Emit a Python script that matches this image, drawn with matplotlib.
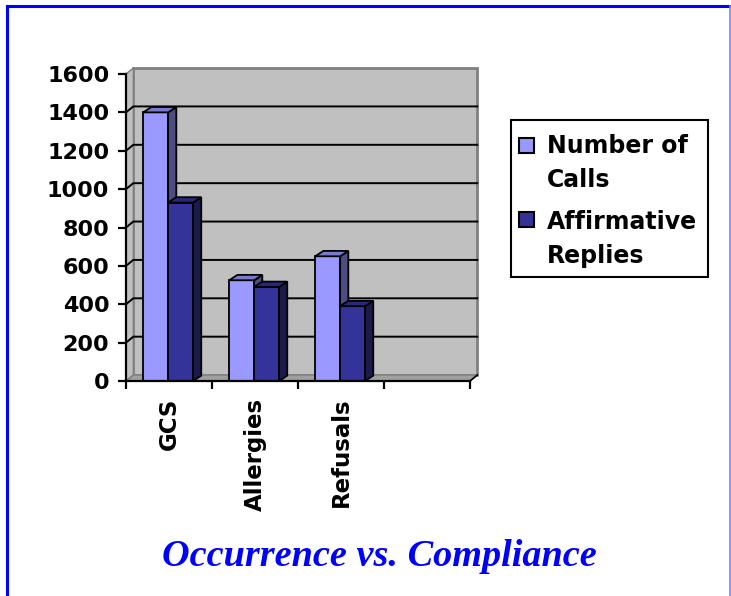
import matplotlib
matplotlib.use("Agg")
import matplotlib.pyplot as plt
from matplotlib.patches import Polygon, Rectangle
from matplotlib.lines import Line2D

# data
categories = ["GCS", "Allergies", "Refusals", ""]
number_of_calls = [1400, 525, 650]
affirmative_replies = [930, 490, 390]
series_names = [["Number of", "Calls"], ["Affirmative", "Replies"]]
y_ticks = [0, 200, 400, 600, 800, 1000, 1200, 1400, 1600]

light = "#9999FF"
light_side = "#4D4D80"
light_top = "#7A7ACC"
dark = "#333399"
dark_side = "#1A1A4D"
dark_top = "#29297A"

W, H = 731, 596
fig = plt.figure(figsize=(W / 100, H / 100), dpi=100)


def fx(px):
    return px / W


def fy(py):
    return 1 - py / H


# blue frame around the slide area
fig.add_artist(Line2D([fx(7), fx(7)], [0, fy(6)], color="#0000FF", lw=2.2))
fig.add_artist(Line2D([fx(7), fx(730)], [fy(6), fy(6)], color="#0000FF", lw=2.2))
fig.add_artist(Line2D([fx(730), fx(730)], [0, fy(6)], color="#8080FF", lw=1.2))

# axes placed so that the front plane matches the picture
ax = fig.add_axes([fx(126), fy(381), 344 / W, 307 / H])
ncat = len(categories)
ymax = y_ticks[-1]
ax.set_xlim(0, ncat)
ax.set_ylim(0, ymax)

# depth offsets of the fake 3d walls (data units)
ddx, ddy = 0.085, 31
back = Polygon([(ddx, ddy), (ncat + ddx, ddy), (ncat + ddx, ymax + ddy), (ddx, ymax + ddy)],
               closed=True, facecolor="#C0C0C0", edgecolor="#808080", lw=2, clip_on=False, zorder=1)
side = Polygon([(0, 0), (ddx, ddy), (ddx, ymax + ddy), (0, ymax)],
               closed=True, facecolor="#C0C0C0", edgecolor="#808080", lw=1, clip_on=False, zorder=1)
floor = Polygon([(0, 0), (ncat, 0), (ncat + ddx, ddy), (ddx, ddy)],
                closed=True, facecolor="#A0A0A0", edgecolor="#808080", lw=1, clip_on=False, zorder=1)
for p in (back, side, floor):
    ax.add_patch(p)

# gridlines on the back wall and side wall
for v in y_ticks[1:-1]:
    ax.plot([0, ddx, ncat + ddx], [v, v + ddy, v + ddy], color="black", lw=1.4,
            clip_on=False, zorder=2)
ax.plot([ncat, ncat + ddx], [0, ddy], color="black", lw=1.2, clip_on=False, zorder=2)


def bar3d(x, w, v, front, top, sidec):
    bdx, bdy = 0.095, 28
    ax.bar(x, v, width=w, align="edge", color=front, edgecolor="black", lw=1.3,
           zorder=3, clip_on=False)
    ax.add_patch(Polygon([(x + w, 0), (x + w + bdx, bdy), (x + w + bdx, v + bdy), (x + w, v)],
                         closed=True, facecolor=sidec, edgecolor="black", lw=1.3,
                         zorder=3, clip_on=False))
    ax.add_patch(Polygon([(x, v), (x + w, v), (x + w + bdx, v + bdy), (x + bdx, v + bdy)],
                         closed=True, facecolor=top, edgecolor="black", lw=1.3,
                         zorder=3, clip_on=False))


bw = 0.29
for i, (a, b) in enumerate(zip(number_of_calls, affirmative_replies)):
    bar3d(i + 0.5 - bw - 0.01, bw, a, light, light_top, light_side)
    bar3d(i + 0.49, bw, b, dark, dark_top, dark_side)

# axes styling
for s in ("top", "right"):
    ax.spines[s].set_visible(False)
for s in ("left", "bottom"):
    ax.spines[s].set_linewidth(1.6)
    ax.spines[s].set_zorder(4)

tick_font = dict(family="DejaVu Sans", weight="bold", size=16)
ax.set_yticks(y_ticks)
ax.set_yticklabels([str(t) for t in y_ticks], **tick_font)
ax.tick_params(axis="y", direction="out", length=6, width=1.6, pad=6)

ax.set_xticks(range(ncat + 1))
ax.set_xticklabels([])
ax.tick_params(axis="x", which="major", direction="out", length=6, width=1.6)
ax.set_xticks([i + 0.5 for i in range(ncat)], minor=True)
ax.set_xticklabels(categories, minor=True, rotation=90, va="top", ha="center",
                   family="DejaVu Sans", weight="bold", size=16.5)
ax.tick_params(axis="x", which="minor", length=0, pad=12)

# legend drawn by hand (the handle sits next to the first text line)
fig.add_artist(Rectangle((fx(511), fy(277)), 197 / W, 157 / H, facecolor="white",
                         edgecolor="black", lw=1.5))
leg_font = dict(family="DejaVu Sans", weight="bold", size=17)
swatches = [light, dark]
square_tops = [138, 212]
baselines = [[153, 187], [229, 263]]
for name, colr, sq, bl in zip(series_names, swatches, square_tops, baselines):
    fig.add_artist(Rectangle((fx(519), fy(sq + 15)), 15 / W, 15 / H, facecolor=colr,
                             edgecolor="black", lw=1.5))
    for line, b in zip(name, bl):
        fig.text(fx(547), fy(b), line, ha="left", va="baseline", **leg_font)

fig.text(fx(379), fy(556), "Occurrence vs. Compliance", ha="center", va="center",
         family="Liberation Serif", weight="bold", style="italic", size=27.5, color="#0000FF")

fig.savefig("out.png", dpi=100)
